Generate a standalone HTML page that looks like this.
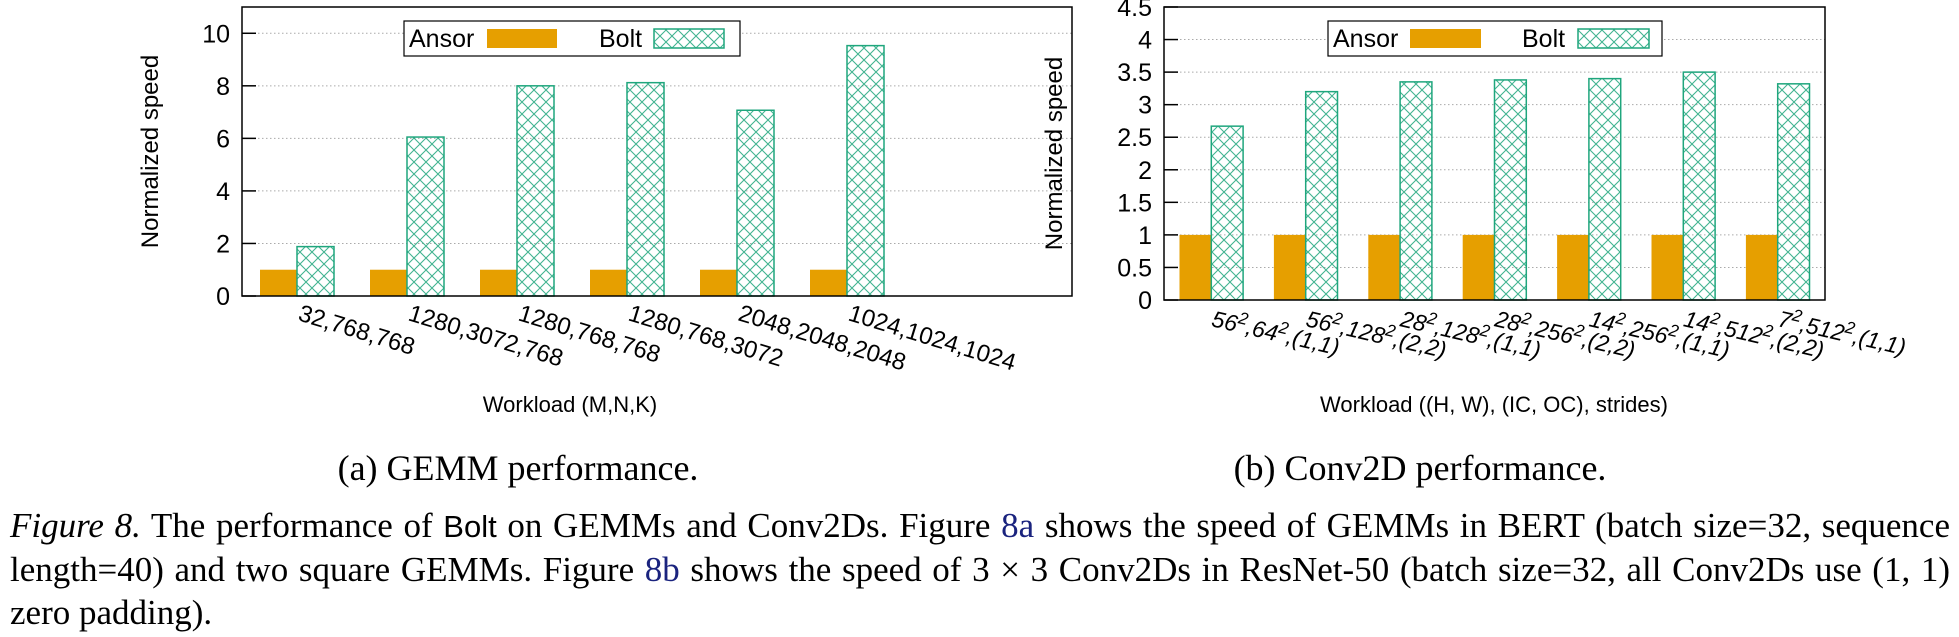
<!DOCTYPE html>
<html><head><meta charset="utf-8"><style>
html,body{margin:0;padding:0;background:#fff;width:1959px;height:637px;overflow:hidden}
svg{position:absolute;left:0;top:0}
#cap{position:absolute;left:10px;top:504px;width:1940px;font-family:"Liberation Serif",serif;font-size:35px;line-height:43px;color:#000}
#cap .ln{text-align:justify;text-align-last:justify;white-space:nowrap}
#cap .last{text-align:left;text-align-last:left}
#cap a{color:#1a237e;text-decoration:none}
</style></head><body>
<svg id="chart" width="1959" height="637" xmlns="http://www.w3.org/2000/svg">
<defs>
<pattern id="hatch" patternUnits="userSpaceOnUse" width="12" height="12">
<path d="M0,0 L12,12 M12,0 L0,12" stroke="#1fa67d" stroke-width="1.1" opacity="0.85"/>
</pattern>
</defs>
</svg>
<div id="cap">
<div class="ln"><i>Figure 8.</i> The performance of <span style="font-family:'Liberation Sans',sans-serif;font-size:31px">Bolt</span> on GEMMs and Conv2Ds. Figure <a>8a</a> shows the speed of GEMMs in BERT (batch size=32, sequence</div>
<div class="ln">length=40) and two square GEMMs. Figure <a>8b</a> shows the speed of 3 × 3 Conv2Ds in ResNet-50 (batch size=32, all Conv2Ds use (1, 1)</div>
<div class="ln last">zero padding).</div>
</div>
<script>
// Chart (a) GEMM data
const gemmCategories = ["32,768,768","1280,3072,768","1280,768,768","1280,768,3072","2048,2048,2048","1024,1024,1024"];
const gemmAnsor = [1,1,1,1,1,1];
const gemmBolt = [1.88,6.05,8.0,8.12,7.07,9.53];
const gemmTicks = [0,2,4,6,8,10];
// Chart (b) Conv2D data
const convCat1 = ["56","56","28","28","14","14","7"];
const convCat2 = ["64","128","128","256","256","512","512"];
const convCat3 = ["(1,1)","(2,2)","(1,1)","(2,2)","(1,1)","(2,2)","(1,1)"];
const convAnsor = [1,1,1,1,1,1,1];
const convBolt = [2.67,3.2,3.35,3.38,3.4,3.5,3.32];
const convTicks = [0,0.5,1,1.5,2,2.5,3,3.5,4,4.5];

const NS="http://www.w3.org/2000/svg";
const svg=document.getElementById('chart');
function mk(tag,attrs,parent){const e=document.createElementNS(NS,tag);for(const k in attrs)e.setAttribute(k,attrs[k]);(parent||svg).appendChild(e);return e;}
const SANS='"Liberation Sans",sans-serif';

function drawChart(cfg){
  const g=mk('g',{});
  
  
  const y=v=>cfg.y0-(v-0)*(cfg.y0-cfg.yTop)/cfg.ymax;
  const bx=i=>cfg.firstX+cfg.step*i;
  cfg.ticks.forEach(t=>{
    if(t>0){const gl=mk('line',{x1:cfg.x0,x2:cfg.x1,y1:y(t),y2:y(t),stroke:'#aaa','stroke-width':1,'stroke-dasharray':'1.5,2.5'},g);
      }
    const tk=mk('line',{x1:cfg.x0,x2:cfg.x0+14,y1:y(t),y2:y(t),stroke:'#000','stroke-width':1.5},g);
    
    const tl=mk('text',{x:cfg.x0-12,y:y(t)+9,'text-anchor':'end','font-family':SANS,'font-size':25},g);
    tl.textContent=String(t);
    
  });
  cfg.ansor.forEach((v,i)=>{
    const r=mk('rect',{x:bx(i),y:y(v),width:cfg.bw,height:cfg.y0-y(v),fill:'#e69f00'},g);
    
  });
  cfg.bolt.forEach((v,i)=>{
    const r=mk('rect',{x:bx(i)+cfg.bw,y:y(v),width:cfg.bw,height:cfg.y0-y(v),fill:'url(#hatch)',stroke:'#1fa67d','stroke-width':1.5},g);
    
  });
  const fr=mk('rect',{x:cfg.x0,y:cfg.yTop,width:cfg.x1-cfg.x0,height:cfg.y0-cfg.yTop,fill:'none',stroke:'#000','stroke-width':1.5},g);
  
  const L=cfg.legend;
  const lg=mk('g',{},g);
  
  mk('rect',{x:L.x,y:21,width:L.w,height:35,fill:'#fff',stroke:'#000','stroke-width':1.2},lg);
  const t1=mk('text',{x:L.ax,y:47,'font-family':SANS,'font-size':25},lg);t1.textContent='Ansor';
  
  const s1=mk('rect',{x:L.as,y:29,width:L.sw,height:19,fill:'#e69f00'},lg);
  
  const t2=mk('text',{x:L.bx,y:47,'font-family':SANS,'font-size':25},lg);t2.textContent='Bolt';
  
  const s2=mk('rect',{x:L.bs,y:29,width:L.sw,height:19,fill:'url(#hatch)',stroke:'#1fa67d','stroke-width':1.5},lg);
  
  const yt=mk('text',{x:0,y:0,'text-anchor':'middle','font-family':SANS,'font-size':24,transform:`translate(${cfg.ytX},${(cfg.y0+cfg.yTop)/2}) rotate(-90)`},g);
  yt.textContent='Normalized speed';
  
  const xt=mk('text',{x:cfg.xtX,y:412,'text-anchor':'middle','font-family':SANS,'font-size':22},g);
  xt.textContent=cfg.xtitle;
  
  const sc=mk('text',{x:cfg.capX,y:480,'text-anchor':'middle','font-family':'"Liberation Serif",serif','font-size':36},g);
  sc.textContent=cfg.caption;
  
  return {g,bx};
}

const a=drawChart({name:'gemm-chart',x0:242,x1:1072,yTop:7,y0:296,ymax:11,ticks:gemmTicks,ansor:gemmAnsor,bolt:gemmBolt,
  firstX:260,step:110,bw:37,ytX:158,xtX:570,capX:518,xtitle:'Workload (M,N,K)',caption:'(a) GEMM performance.',
  legend:{x:404,w:336,ax:409,as:487,sw:70,bx:599,bs:654}});
gemmCategories.forEach((c,i)=>{
  const x=a.bx(i)+37, yy=320;
  const t=mk('text',{x:x,y:yy,'font-family':SANS,'font-size':24,transform:`rotate(17 ${x} ${yy})`},a.g);
  t.textContent=c;
  
  
});

const b=drawChart({name:'conv2d-chart',x0:1164,x1:1825,yTop:7,y0:300,ymax:4.5,ticks:convTicks,ansor:convAnsor,bolt:convBolt,
  firstX:1179.5,step:94.4,bw:31.8,ytX:1062,xtX:1494,capX:1420,xtitle:'Workload ((H, W), (IC, OC), strides)',caption:'(b) Conv2D performance.',
  legend:{x:1328,w:334,ax:1333,as:1410,sw:71,bx:1522,bs:1578}});
convCat1.forEach((c,i)=>{
  const x=b.bx(i)+31, yy=326;
  const t=mk('text',{x:x,y:yy,'font-family':SANS,'font-size':23,'font-style':'italic',transform:`rotate(13 ${x} ${yy})`},b.g);
  
  
  const parts=[[c,0],['2',-9],[','+convCat2[i],9],['2',-9],[','+convCat3[i],9]];
  parts.forEach(p=>{
    const s=mk('tspan',{dy:p[1],'font-size':p[0]==='2'?17:23},t);s.textContent=p[0];
  });
});
</script>
</body></html>
